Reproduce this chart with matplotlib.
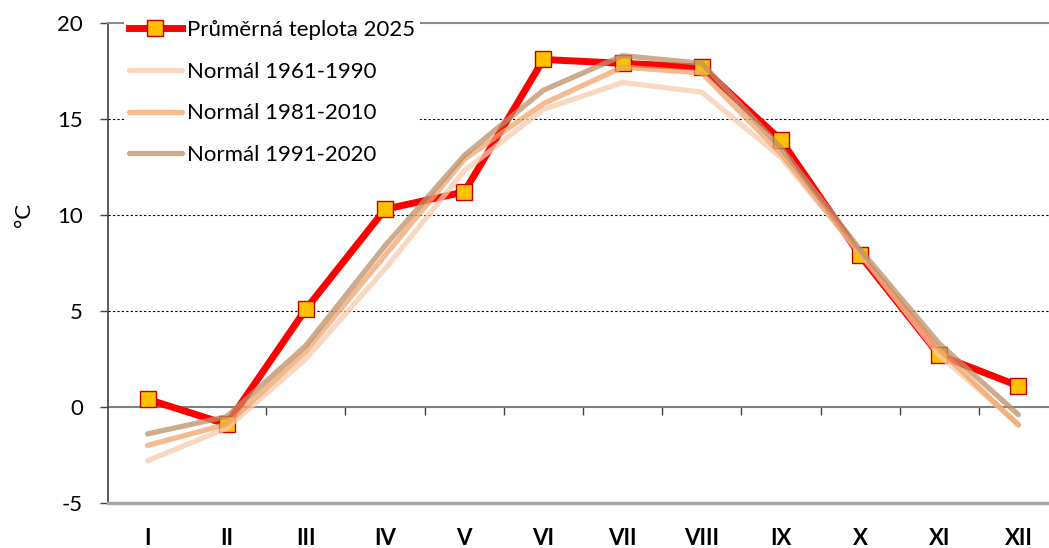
import numpy as np
import matplotlib
matplotlib.use('Agg')
import matplotlib.pyplot as plt

plt.rcParams['font.family'] = ['Lato', 'DejaVu Sans']
plt.rcParams['axes.unicode_minus'] = False

# data
mesice = ['I', 'II', 'III', 'IV', 'V', 'VI', 'VII', 'VIII', 'IX', 'X', 'XI', 'XII']
t2025 = [0.4, -0.9, 5.1, 10.3, 11.2, 18.1, 17.9, 17.7, 13.9, 7.9, 2.7, 1.1]
n6190 = [-2.8, -1.1, 2.5, 7.2, 12.3, 15.5, 16.9, 16.4, 13.0, 8.0, 2.7, -0.9]
n8110 = [-2.0, -0.9, 2.9, 7.9, 12.9, 15.8, 17.7, 17.4, 13.2, 8.0, 3.0, -0.95]
n9120 = [-1.4, -0.5, 3.2, 8.4, 13.1, 16.5, 18.3, 17.9, 13.5, 8.2, 3.3, -0.4]

ymin, ymax = -5, 20
grid_dot = [5, 10, 15]

x = np.arange(len(mesice))

fig = plt.figure(figsize=(10.49, 5.48), dpi=100)
ax = fig.add_axes([108/1049, 1-503/548, 950/1049, 480/548])

# mrizka
for g in grid_dot:
    ax.axhline(g, color='black', lw=0.8, ls=(0, (2, 2)), zorder=0)
ax.axhline(0, color='#808080', lw=1.5, zorder=1)

ax.plot(x, t2025, color='#FF0000', lw=5, marker='s', markersize=12,
        mfc='#FFC000', mec='#C00000', mew=1.0, label='Průměrná teplota 2025', zorder=3)
ax.plot(x, n6190, color='#F8CBAD', lw=3.8, alpha=0.75, solid_capstyle='round',
        label='Normál 1961-1990', zorder=4)
ax.plot(x, n8110, color='#F0A46A', lw=3.8, alpha=0.75, solid_capstyle='round',
        label='Normál 1981-2010', zorder=4)
ax.plot(x, n9120, color='#BF8F68', lw=3.8, alpha=0.75, solid_capstyle='round',
        label='Normál 1991-2020', zorder=4)

ax.set_xlim(-0.5, len(mesice) - 0.5)
ax.set_ylim(ymin, ymax)

ax.set_xticks(x)
ax.set_xticklabels(mesice, fontweight='bold', fontsize=16)
ax.tick_params(axis='x', length=0, pad=18)
ax.set_yticks(np.arange(ymin, ymax + 1, 5))
ax.tick_params(axis='y', labelsize=16, direction='out', length=6, width=1, color='#404040', pad=12)

ax.spines['right'].set_visible(False)
ax.spines['top'].set_color('#8c8c8c')
ax.spines['top'].set_linewidth(1.5)
ax.spines['bottom'].set_color('#a6a6a6')
ax.spines['bottom'].set_linewidth(2.5)
ax.spines['left'].set_color('#404040')
ax.spines['left'].set_linewidth(1.2)

# osa s ryskami na nule
sec = ax.secondary_xaxis((0 - ymin) / (ymax - ymin))
sec.set_xticks(np.arange(0.5, len(mesice) - 0.5, 1))
sec.set_xticklabels([])
sec.tick_params(axis='x', direction='out', length=6, width=1, color='#404040')
sec.spines['bottom'].set_visible(False)

ax.set_ylabel('°C', fontsize=16)
ax.yaxis.set_label_coords(-0.078, 0.6)

leg = ax.legend(loc='upper left', bbox_to_anchor=(0.017, 1.015), fontsize=16,
                frameon=True, facecolor='white', edgecolor='none', framealpha=1,
                handlelength=2.4, handletextpad=0.25, labelspacing=0.97,
                borderpad=0.2, borderaxespad=0)
leg.set_zorder(10)

plt.savefig('out.png', dpi=100)
